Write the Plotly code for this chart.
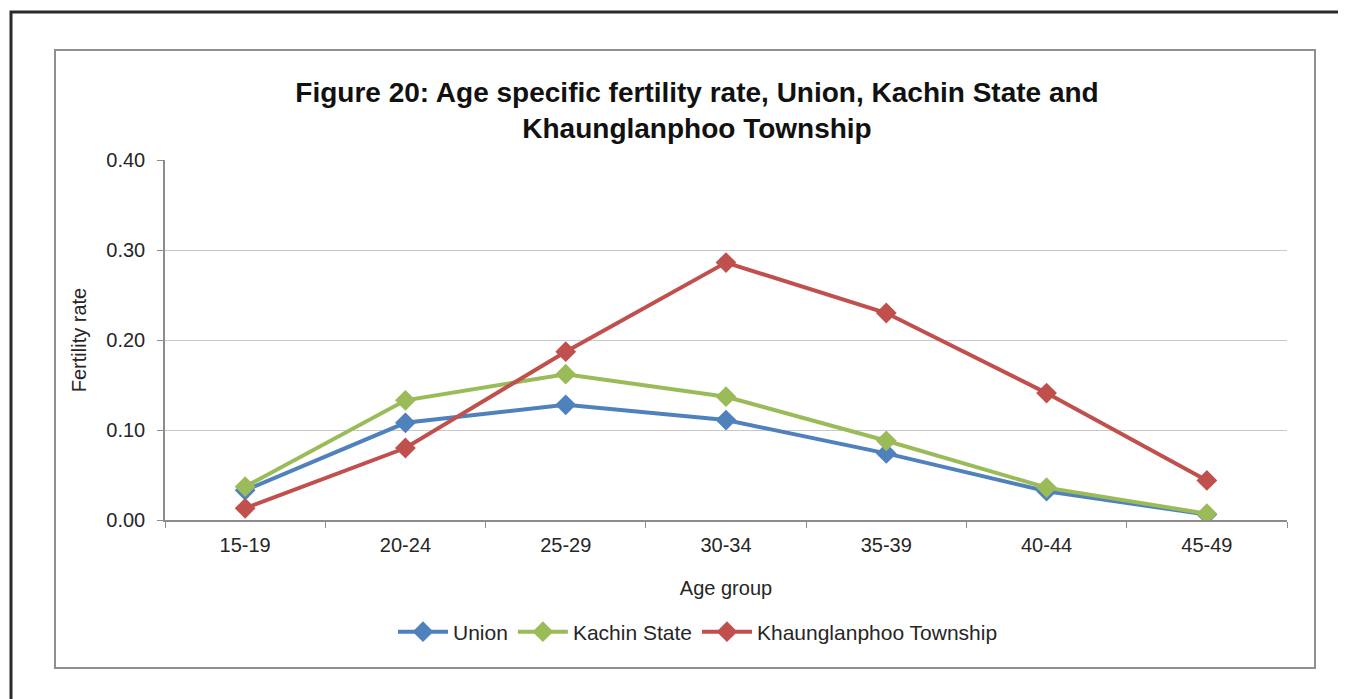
import plotly.graph_objects as go

age_groups = ["15-19", "20-24", "25-29", "30-34", "35-39", "40-44", "45-49"]
union = [0.033, 0.108, 0.128, 0.111, 0.074, 0.032, 0.006]
kachin = [0.037, 0.133, 0.162, 0.137, 0.088, 0.036, 0.007]
khaunglanphoo = [0.013, 0.080, 0.187, 0.286, 0.230, 0.141, 0.044]

series_names = ["Union", "Kachin State", "Khaunglanphoo Township"]
series_colors = ["#4F81BD", "#9BBB59", "#C0504D"]
y_ticks = [0.0, 0.1, 0.2, 0.3, 0.4]
y_tick_labels = ["0.00", "0.10", "0.20", "0.30", "0.40"]

OFF = 8  # default page body margin
W, H = 1346 - OFF, 699 - OFF
# plot area in page pixels
L, R, T, B = 165, 1287, 160, 520


def px(x):
    return (x - L) / (R - L)


def py(y):
    return (B - y) / (B - T)


FONT = "Liberation Sans, Arial, sans-serif"
TXT = "#262626"

fig = go.Figure()
for name, vals, col in zip(series_names, [union, kachin, khaunglanphoo], series_colors):
    fig.add_trace(go.Scatter(
        x=age_groups, y=vals, name=name, mode="lines+markers",
        line=dict(color=col, width=4),
        marker=dict(symbol="diamond", size=16, color=col),
    ))

fig.update_layout(
    width=W, height=H,
    margin=dict(l=L - OFF, r=(W + OFF) - R, t=T - OFF, b=(H + OFF) - B, autoexpand=False),
    paper_bgcolor="white", plot_bgcolor="white",
    font=dict(family=FONT, size=20, color=TXT),
    title=dict(
        text="<b>Figure 20: Age specific fertility rate, Union, Kachin State and<br>Khaunglanphoo Township</b>",
        x=px(697), xref="paper", xanchor="center",
        y=1 - (102 - OFF) / H, yref="container", yanchor="middle",
        font=dict(family=FONT, size=28, color="#111"),
    ),
    xaxis=dict(
        type="category", range=[-0.5, 6.5],
        showline=True, linecolor="#8c8c8c", linewidth=1.5,
        ticks="outside", tickson="boundaries", ticklen=6, tickcolor="#8c8c8c",
        ticklabelstandoff=6,
        showgrid=False, tickfont=dict(size=20, color=TXT),
        title=dict(text="Age group", font=dict(size=20, color=TXT), standoff=26),
    ),
    yaxis=dict(
        range=[0, 0.4], tickvals=y_ticks, ticktext=y_tick_labels,
        showline=True, linecolor="#8c8c8c", linewidth=1.5,
        ticks="outside", ticklen=6, tickcolor="#8c8c8c",
        ticklabelstandoff=8,
        showgrid=True, gridcolor="#c8c8c8", gridwidth=1.2,
        zeroline=False, tickfont=dict(size=20, color=TXT),
        title=dict(text="Fertility rate", font=dict(size=20, color=TXT), standoff=14),
    ),
    legend=dict(
        orientation="h", x=px(698), xanchor="center", y=py(632), yanchor="middle",
        font=dict(size=21, color=TXT), itemwidth=50, traceorder="normal",
        bgcolor="rgba(0,0,0,0)",
    ),
    shapes=[
        dict(type="rect", xref="paper", yref="paper",
             x0=px(11), x1=px(1400), y0=py(760), y1=py(12),
             line=dict(color="#2a2a2a", width=3), fillcolor="rgba(0,0,0,0)", layer="below"),
        dict(type="rect", xref="paper", yref="paper",
             x0=px(55), x1=px(1315), y0=py(668), y1=py(50),
             line=dict(color="#8f8f8f", width=2), fillcolor="rgba(0,0,0,0)", layer="below"),
    ],
)

fig.write_html("out.html")
